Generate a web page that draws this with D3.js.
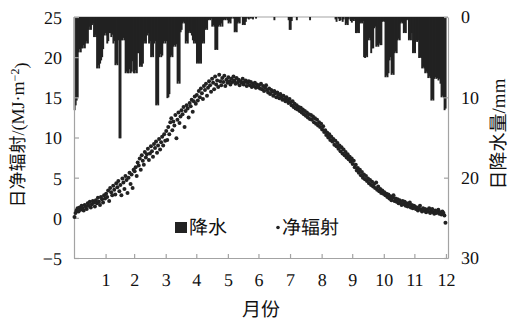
<!DOCTYPE html>
<html><head><meta charset="utf-8">
<script src="https://cdn.jsdelivr.net/npm/d3@7/dist/d3.min.js"></script>
<style>body{margin:0;background:#fff}svg{display:block}text{-webkit-font-smoothing:antialiased;text-rendering:geometricPrecision}</style>
</head><body>
<svg id="c" width="516" height="321"></svg>
<script>
// ---- data ----
const monthLabels = ["1","2","3","4","5","6","7","8","9","10","11","12"];
const monthDays = [31,28,31,30,31,30,31,31,30,31,30,31];
const leftTicks = [-5,0,5,10,15,20,25];
const rightTicks = [0,10,20,30];

// daily precipitation (mm)
const rainJan = [11.6,11.0,10.4,10.0,4.4,4.0,4.4,3.9,3.9,3.5,3.9,3.3,3.0,3.3,1.6,1.2,1.6,1.0,0.8,2.5,2.2,2.5,6.4,6.0,6.4,5.8,5.4,5.0,4.0,2.3,2.0];
const rainFeb = [2.3,3.3,3.0,2.0,2.0,2.5,2.2,3.3,3.0,6.0,5.8,6.0,2.9,15.1,15.1,2.9,2.9,2.6,2.9,7.0,6.8,7.0,7.0,6.5,7.0,6.8,5.5,7.0];
const rainMar = [7.0,6.6,7.0,4.5,4.5,6.2,6.0,6.2,5.8,3.3,3.0,3.3,2.3,2.0,3.3,3.0,5.0,4.8,5.0,3.3,3.0,11.0,10.8,11.0,5.0,4.6,5.0,4.8,3.3,3.0,3.3];
const rainApr = [3.0,10.1,10.0,9.6,5.0,4.8,5.0,3.7,3.5,3.7,3.4,8.3,8.0,8.3,1.9,1.6,0.8,0.6,0.8,3.3,3.0,3.3,2.0,1.8,2.0,2.3,2.9,3.3,3.0,3.3];
const rainMay = [5.8,5.6,5.8,5.4,5.8,3.3,3.0,3.3,1.6,1.4,1.6,0.4,0.3,0.4,0.2,1.2,1.0,1.2,4.1,4.0,4.1,1.2,1.0,1.2,0.8,1.2,0.4,0.3,0.4,0.2,0.4];
const rainJun = [0.8,0.6,0.8,0.2,0,0.2,1.9,1.8,1.9,0.8,0.6,0.8,0,0,1.0,0.9,1.0,0.6,0.2,0,0.3,0,0.2,0,0.3,0,0,0.2,0,0];
const rainJul = [0,0,0,0,0,0,0,0,0,0,0,0,0,0,0,0.4,0,0,0,0,0,0,0,0,0,0,0,0,0,0.4,1.6];
const rainAug = [1.6,0.5,0,0,0,0,0.4,0,0,0,0,0,0,0,0,0,0,0,0,0.4,0,0,0,0,0,0,0,0,0,0,0];
const rainSep = [0,0,0,0,0,0,0,0,0,0,0,0,0,0.3,0.6,0,0.2,0.5,0.4,0,0.6,0.3,0,1.0,0.8,1.0,0.3,0,0.5,0.7];
const rainOct = [0.4,0.5,0.3,2.0,2.0,1.8,2.0,0.8,0.6,0.8,0.5,5.0,5.1,4.8,5.0,2.9,2.6,2.9,4.5,3.9,3.9,1.4,1.2,3.7,3.5,3.7,3.3,3.5,3.5,0.6,0.5];
const rainNov = [0.6,7.5,7.3,7.5,7.0,5.4,5.0,7.2,7.0,7.2,4.5,4.3,4.5,2.9,2.7,2.9,0.8,0.6,0.8,2.0,1.9,2.0,0.4,0.3,2.9,2.7,2.9,2.0,4.5,4.3];
const rainDec = [4.5,2.9,3.1,2.9,5.1,5.0,5.1,6.4,6.2,6.4,7.0,6.8,7.0,7.6,7.4,7.6,10.4,10.2,10.4,7.7,7.5,7.7,7.6,7.9,7.7,8.3,10.0,9.8,10.0,11.6,11.4];

// daily net radiation (MJ·m-2)
const radJan = [0.1,0.6,0.9,1.2,0.8,1.3,1.0,1.5,1.2,0.9,1.6,1.4,1.1,1.8,1.5,2.0,1.3,1.7,2.1,1.9,1.4,2.2,1.8,2.5,2.0,1.6,2.6,2.3,1.9,2.8,2.4];
const radFeb = [3.0,2.6,3.4,2.1,3.7,3.2,2.8,4.0,3.5,2.9,4.3,3.8,4.6,3.3,4.1,2.8,4.9,4.4,3.6,5.2,4.7,3.1,5.0,5.6,4.2,5.4,3.7,6.0];
const radMar = [5.8,6.3,5.2,6.9,6.5,7.4,6.0,7.8,7.1,6.6,8.2,7.5,7.9,8.6,7.2,8.0,8.9,8.3,7.6,9.2,8.7,9.5,8.1,9.0,9.8,8.5,9.4,10.1,9.0,10.4,9.6];
const radApr = [10.8,9.7,11.3,10.4,11.9,12.4,10.9,12.0,11.5,12.8,9.9,12.2,13.1,11.8,12.6,13.4,12.9,13.8,11.3,13.3,14.0,13.6,12.5,14.3,13.9,14.7,13.2,14.5,15.1,14.2];
const radMay = [15.3,14.6,15.8,15.0,16.1,15.5,14.8,16.4,15.9,16.7,15.2,16.2,17.0,16.5,15.7,17.3,16.8,16.0,17.6,16.6,17.1,16.3,17.8,17.0,16.5,17.4,16.9,17.7,16.4,17.2,16.8];
const radJun = [17.5,17.0,16.6,17.3,16.9,17.6,17.1,16.7,17.4,16.8,17.2,16.5,17.0,16.8,17.3,16.6,16.9,17.1,16.4,16.8,17.0,16.5,16.9,16.3,16.7,16.4,16.8,16.2,16.6,16.3];
const radJul = [16.5,16.1,16.7,16.0,16.4,15.8,16.2,16.5,15.9,15.6,16.1,15.4,15.9,15.7,15.2,15.8,15.5,15.0,15.6,15.3,14.9,15.4,15.1,14.7,15.2,14.8,14.5,15.0,14.6,14.3,14.8];
const radAug = [14.4,14.0,14.5,13.8,14.2,13.6,14.0,13.5,13.8,13.3,13.7,13.1,13.5,12.9,13.3,12.7,13.1,12.5,12.9,12.3,12.8,12.2,12.6,11.9,12.4,11.7,12.2,11.5,11.9,11.3,11.7];
const radSep = [11.0,11.4,10.7,10.9,10.3,10.6,10.0,10.4,9.7,10.1,9.5,9.8,9.1,9.6,8.9,9.3,8.6,9.0,8.3,8.8,8.0,8.5,7.8,8.2,7.5,7.9,7.3,7.6,7.0,7.4];
const radOct = [6.7,7.1,6.3,6.6,5.9,6.2,5.6,6.0,5.3,5.7,5.0,5.4,4.8,5.2,4.6,4.9,4.3,4.7,4.1,4.5,3.9,4.2,3.7,4.4,3.5,3.9,3.3,3.6,3.1,3.4,3.0];
const radNov = [3.2,2.8,3.0,2.6,2.9,2.4,2.7,2.2,2.5,2.8,2.1,2.4,2.0,2.3,1.8,2.2,1.9,1.6,2.1,1.7,2.0,1.5,1.8,1.4,1.7,1.9,1.3,1.6,1.2,1.5];
const radDec = [1.4,1.1,1.3,0.9,1.2,1.5,1.0,0.8,1.2,0.9,1.1,0.7,1.0,0.8,1.2,0.6,0.9,1.1,0.7,0.5,0.9,0.6,0.8,1.0,0.5,0.7,0.4,0.8,0.6,0.3,-0.6];

// ---- build ----
const rain = [].concat(rainJan,rainFeb,rainMar,rainApr,rainMay,rainJun,rainJul,rainAug,rainSep,rainOct,rainNov,rainDec);
const rad = [].concat(radJan,radFeb,radMar,radApr,radMay,radJun,radJul,radAug,radSep,radOct,radNov,radDec);
const monthEnds = d3.cumsum(monthDays);

const L = 74, R = 448, T = 17, B = 258;
const svg = d3.select("#c");
const x = d3.scaleLinear().domain([0, 367]).range([L, R]);
const yL = d3.scaleLinear().domain([-5, 25]).range([B, T]);
const yR = d3.scaleLinear().domain([0, 30]).range([T, B]);

const serif = "'Liberation Serif','Times New Roman',serif";
const cjk = "'Noto Sans CJK SC','Noto Sans CJK JP',sans-serif";
const axisCol = "#a3a3a3";
const ink = "#222";
const txt = "#111";

// top frame
svg.append("line").attr("x1", L).attr("x2", R).attr("y1", T).attr("y2", T)
  .attr("stroke", axisCol).attr("stroke-width", 1.2);

// bars
const bw = x(1) - x(0);
svg.append("g").selectAll("rect").data(rain.map((v, i) => ({v, i})).filter(d => d.v > 0)).join("rect")
  .attr("x", d => x(d.i) - 0.3)
  .attr("y", yR(0))
  .attr("width", bw + 0.9)
  .attr("height", d => yR(d.v) - yR(0))
  .attr("fill", ink);

// axes
function styleAxis(g) {
  g.selectAll(".domain").attr("stroke", axisCol).attr("stroke-width", 1.2);
  g.selectAll(".tick line").attr("stroke", axisCol).attr("stroke-width", 1.2);
  g.selectAll(".tick text").attr("fill", txt).style("font-family", serif).style("font-size", "18px");
}
svg.append("g").attr("transform", `translate(${L},0)`)
  .call(d3.axisLeft(yL).tickValues(leftTicks).tickSizeInner(-5).tickSizeOuter(0).tickPadding(12))
  .call(styleAxis).call(g => g.selectAll(".tick text").attr("dy", "0.36em"));
svg.append("g").attr("transform", `translate(${R},0)`)
  .call(d3.axisRight(yR).tickValues(rightTicks).tickSizeInner(-4).tickSizeOuter(0).tickPadding(13))
  .call(styleAxis);
svg.append("g").attr("transform", `translate(0,${B})`)
  .call(d3.axisBottom(x).tickValues(monthEnds).tickFormat((d, i) => monthLabels[i]).tickSizeInner(-4).tickSizeOuter(0).tickPadding(15))
  .call(styleAxis);

// dots
svg.append("g").selectAll("circle").data(rad).join("circle")
  .attr("cx", (d, i) => x(i + 0.5))
  .attr("cy", d => yL(d))
  .attr("r", 2.0)
  .attr("fill", ink);

// legend
svg.append("rect").attr("x", 175).attr("y", 222).attr("width", 12).attr("height", 11).attr("fill", ink);
svg.append("text").attr("x", 189).attr("y", 234).text("降水")
  .style("font-family", cjk).style("font-size", "19px").attr("fill", txt);
svg.append("circle").attr("cx", 278).attr("cy", 227.5).attr("r", 1.8).attr("fill", ink);
svg.append("text").attr("x", 282).attr("y", 234).text("净辐射")
  .style("font-family", cjk).style("font-size", "19px").attr("fill", txt);

// axis titles
const lt = svg.append("text").attr("transform", "translate(24,135) rotate(-90)")
  .attr("text-anchor", "middle").style("font-size", "18px").attr("fill", txt);
lt.append("tspan").text("日净辐射").style("font-family", cjk).attr("fill", txt);
lt.append("tspan").text("/(MJ·m").style("font-family", serif).attr("fill", txt);
lt.append("tspan").text("−2").attr("dy", "-0.45em").style("font-size", "12px").style("font-family", serif).attr("fill", txt);
lt.append("tspan").text(")").attr("dy", "0.45em").style("font-family", serif).attr("fill", txt);

const rt = svg.append("text").attr("transform", "translate(505,134) rotate(-90)")
  .attr("text-anchor", "middle").style("font-size", "19px").attr("fill", txt);
rt.append("tspan").text("日降水量").style("font-family", cjk).attr("fill", txt);
rt.append("tspan").text("/mm").style("font-family", serif).attr("fill", txt);

svg.append("text").attr("x", 261).attr("y", 316).attr("text-anchor", "middle")
  .style("font-family", cjk).style("font-size", "19px").attr("fill", txt).text("月份");
</script>
</body></html>
